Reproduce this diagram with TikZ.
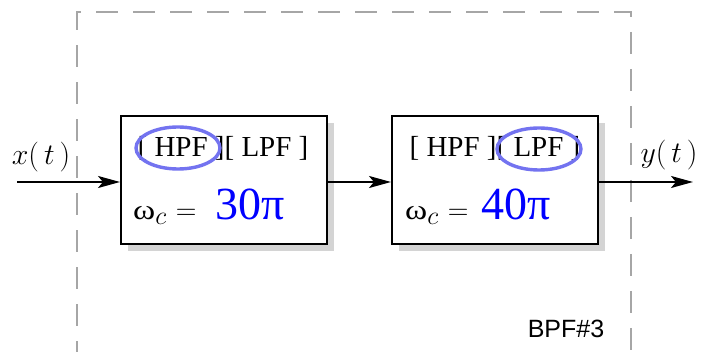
\documentclass[tikz,border=0pt]{standalone}
\usepackage{fontspec}
\setmainfont{Liberation Serif}
\newfontfamily\labelsans{Liberation Sans}
\usetikzlibrary{arrows.meta,shapes.geometric}
\definecolor{ellcol}{HTML}{7373F0}
\definecolor{dashgray}{HTML}{A6A6A6}
\definecolor{shadowgray}{HTML}{D4D4D4}
\newcommand{\omegac}{\scalebox{1.2}[1]{ω}\scalebox{1.25}{$_c$}\hspace{9pt}\scalebox{1.15}{$=$}}
\begin{document}
\begin{tikzpicture}[x=1pt,y=-1pt,
  blockbox/.style={draw=black,line width=2pt,fill=white,minimum width=206pt,minimum height=128pt,inner sep=0pt},
  shadowbox/.style={fill=shadowgray,minimum width=206pt,minimum height=128pt,inner sep=0pt},
  sig/.style={line width=2pt,-{Stealth[length=22pt,width=12pt,inset=5pt]}},
  filtertxt/.style={font=\fontsize{29}{30}\selectfont,inner sep=0pt},
  omegatxt/.style={font=\fontsize{28}{30}\selectfont,inner sep=0pt,anchor=base west},
  bigval/.style={font=\fontsize{46}{48}\selectfont,text=blue,inner sep=0pt,anchor=base west},
  ringmark/.style={draw=ellcol,line width=3.4pt,ellipse,minimum width=84pt,minimum height=42pt,inner sep=0pt},
  siglabel/.style={font=\fontsize{24.88}{28}\selectfont,inner sep=0pt}
]
\useasboundingbox (0,0) rectangle (710,352);
% dashed frame
\draw[dashgray,line width=2pt,dash pattern=on 22pt off 15pt] (77,400) -- (77,12) -- (631,12) -- (631,400);
% shadows
\node[shadowbox] (s1) at (231,187) {};
\node[shadowbox] (s2) at (502,187) {};
% blocks
\node[blockbox] (b1) at (224,180) {};
\node[blockbox] (b2) at (495,180) {};
% texts block 1
\node[filtertxt] (f1) at (223,148) {[ HPF ][ LPF ]};
\node[omegatxt] (w1) at (133,220) {\omegac};
\node[bigval] (v1) at (215,220) {30π};
% texts block 2
\node[filtertxt] (f2) at (495,148) {[ HPF ][ LPF ]};
\node[omegatxt] (w2) at (405,220) {\omegac};
\node[bigval] (v2) at (481,220) {40π};
% ellipses
\node[ringmark] (e1) at (178,148) {};
\node[ringmark] (e2) at (539,149) {};
% connectors
\coordinate (in) at (17,182);
\coordinate (out) at (693,182);
\draw[sig] (in) -- (b1.west |- in);
\draw[sig] (b1.east |- in) -- (b2.west |- in);
\draw[sig] (b2.east |- in) -- (out);
% labels
\node[siglabel] (xl) at (41,157) {\scalebox{1.2}{$x(\,t\,)$}};
\node[siglabel] (yl) at (669,155) {\scalebox{1.2}{$y(\,t\,)$}};
\node[font=\labelsans\fontsize{25}{28}\selectfont,inner sep=0pt] (bpf) at (566,329) {BPF\#3};
\end{tikzpicture}
\end{document}
